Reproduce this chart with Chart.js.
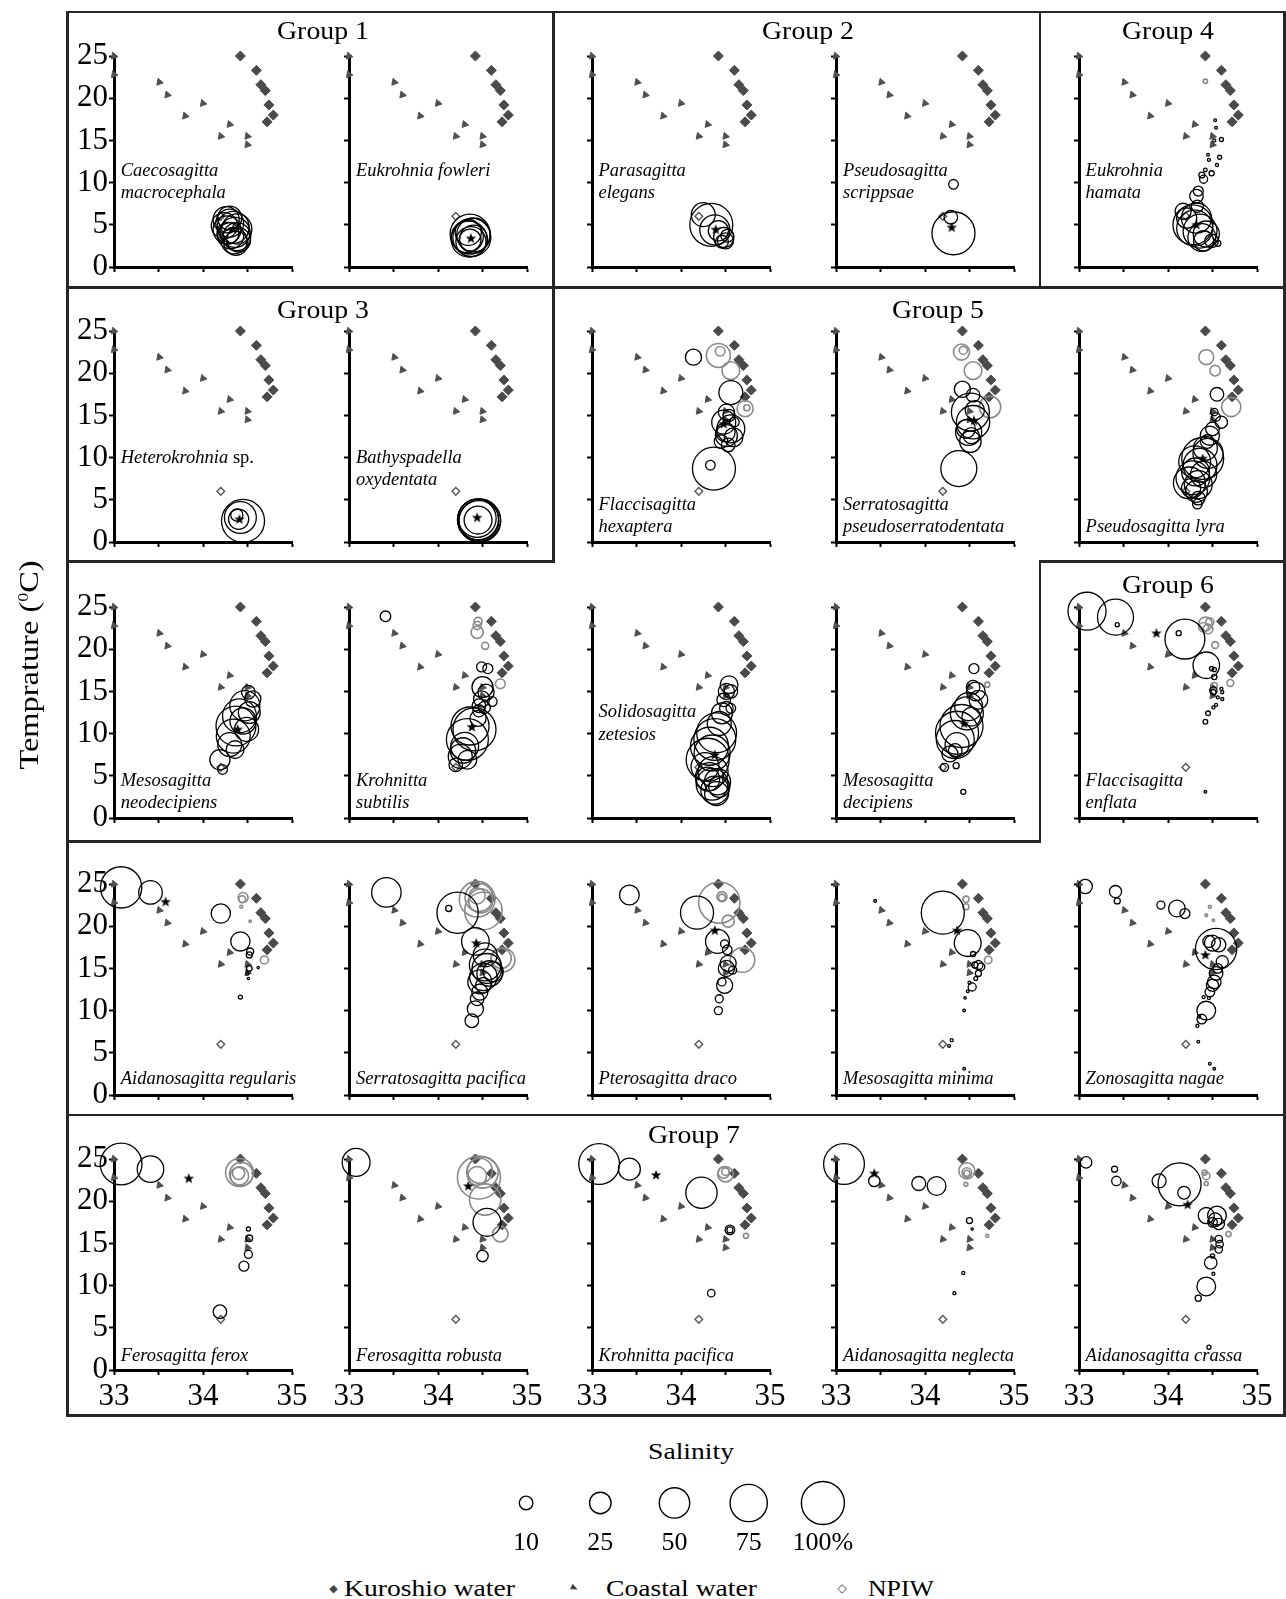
<!DOCTYPE html>
<html><head><meta charset="utf-8">
<script src="https://cdn.jsdelivr.net/npm/chart.js@4.4.1/dist/chart.umd.min.js"></script>
<style>
html,body{margin:0;padding:0;background:#fff;}
body{width:1286px;height:1599px;position:relative;overflow:hidden;font-family:'Liberation Serif','Times New Roman',serif;color:#000;}
canvas{position:absolute;}
</style></head><body>
<script>
// ---------------- DATA ----------------
const salinityTicks = [33, 33.5, 34, 34.5, 35];
const temperatureTicks = [0, 5, 10, 15, 20, 25];

// water-mass reference points [salinity, temperature]
const kuroshioWater = [[34.42,25.0],[34.60,23.3],[34.65,21.6],[34.70,20.9],[34.74,19.2],[34.79,18.0],[34.72,17.2]];
const coastalWater = [[33.0,25.0],[33.0,22.8],[33.51,21.9],[33.60,20.4],[34.0,19.4],[33.80,17.9],[34.30,16.9],[34.20,15.5],[34.50,15.5],[34.50,14.5]];
const npiw = [[34.2,6.0]];

// species occurrences [salinity, temperature, % of abundance]  (black = main, gray = second set)
const macrocephala = [[34.26,5.6,37],[34.30,5.2,42],[34.34,4.7,55],[34.27,4.4,42],[34.36,4.1,49],[34.38,3.6,42],[34.35,3.1,37],[34.37,2.8,31],[34.31,3.7,37],[34.24,4.9,37],[34.38,4.5,49],[34.30,5.8,31],[34.40,3.2,31],[34.28,4.0,26]];
const fowleri = [[34.36,3.9,86],[34.38,3.5,78],[34.35,3.3,70],[34.40,3.8,62],[34.33,3.6,55],[34.37,3.0,49],[34.40,3.3,42],[34.34,4.1,37],[34.36,3.2,26]];
const elegans = [[34.34,5.0,100],[34.25,6.2,31],[34.38,4.4,49],[34.42,4.3,22],[34.48,3.5,22],[34.50,3.1,14],[34.52,3.7,9],[34.46,3.0,9]];
const scrippsae = [[34.32,4.0,100],[34.29,5.9,10],[34.32,9.8,5]];
const hamata = [[34.53,17.4,0.4],[34.60,15.1,0.9],[34.54,16.5,0.4],[34.52,15.0,0.5],[34.45,13.3,0.4],[34.58,13.0,0.9],[34.46,12.7,0.5],[34.55,12.1,0.5],[34.42,11.5,0.7],[34.49,11.1,1.4],[34.38,10.9,1.9],[34.40,10.4,3.5],[34.34,9.0,5.4],[34.32,8.4,10],[34.33,7.2,8],[34.17,6.6,14],[34.21,5.8,22],[34.28,5.0,86],[34.32,5.8,49],[34.36,4.25,62],[34.30,4.6,70],[34.38,3.5,42],[34.43,3.9,37],[34.40,3.1,22],[34.49,3.1,10],[34.56,2.8,2]];
const hamataGray = [[34.42,22.0,1]];
const heterokrohnia = [[34.45,2.5,100],[34.42,2.9,55],[34.40,2.7,22],[34.38,3.2,8]];
const oxydentata = [[34.46,2.6,100],[34.47,2.5,95],[34.45,2.7,90],[34.46,2.55,86],[34.44,2.8,78],[34.45,2.6,42]];
const hexaptera = [[34.14,21.9,14],[34.56,17.7,31],[34.51,15.4,14],[34.48,14.2,31],[34.56,13.4,42],[34.51,12.6,26],[34.45,11.9,10],[34.59,12.4,19],[34.53,11.5,10],[34.60,14.2,5],[34.50,13.0,20],[34.54,15.0,8],[34.37,8.7,100],[34.33,9.1,5]];
const hexapteraGray = [[34.42,22.1,31],[34.44,22.6,5],[34.56,20.3,17],[34.72,15.8,14],[34.74,15.9,2]];
const pseudoserratodentata = [[34.42,18.1,14],[34.54,17.4,10],[34.51,15.4,78],[34.54,14.2,60],[34.49,13.0,37],[34.51,11.9,25],[34.46,13.4,19],[34.56,15.6,20],[34.52,12.6,14],[34.38,8.7,70]];
const pseudoserratodentataGray = [[34.41,22.5,14],[34.43,22.7,3.5],[34.54,20.3,17],[34.73,16.0,25]];
const lyra = [[34.55,17.5,10],[34.52,15.4,3],[34.54,14.8,4],[34.60,14.2,8],[34.50,13.4,10],[34.47,12.6,20],[34.44,11.9,10],[34.42,11.1,31],[34.45,10.5,49],[34.39,9.9,95],[34.30,9.5,55],[34.36,9.1,62],[34.31,8.3,42],[34.40,8.0,37],[34.28,7.6,62],[34.24,7.0,55],[34.34,6.8,42],[34.26,6.4,20],[34.32,6.0,26],[34.34,5.2,10],[34.33,4.5,5]];
const lyraGray = [[34.43,21.9,12],[34.53,20.3,6],[34.71,16.0,20]];
const neodecipiens = [[34.51,14.9,10],[34.56,14.1,14],[34.47,13.3,49],[34.52,12.5,26],[34.41,12.1,62],[34.45,11.5,37],[34.37,10.9,86],[34.49,10.5,31],[34.34,9.7,62],[34.30,8.7,31],[34.36,8.1,17],[34.19,6.9,22],[34.22,5.75,5]];
const subtilis = [[33.41,23.9,6],[34.49,17.9,5.4],[34.56,17.7,5.4],[34.50,15.5,24],[34.54,14.9,14],[34.49,14.1,14],[34.61,13.8,5],[34.46,13.3,10],[34.52,13.1,8],[34.46,12.7,8],[34.45,11.8,14],[34.41,10.5,100],[34.36,10.9,78],[34.33,9.3,95],[34.30,8.5,42],[34.28,8.0,35],[34.25,7.3,31],[34.33,6.9,19],[34.20,6.3,10]];
const subtilisGray = [[34.45,23.3,3.5],[34.44,22.8,3.5],[34.44,22.0,8],[34.53,20.4,2.7],[34.70,15.9,5]];
const zetesios = [[34.54,15.8,17],[34.51,15.0,14],[34.56,15.0,10],[34.48,14.0,10],[34.51,13.0,10],[34.56,13.0,5],[34.46,12.4,24],[34.43,11.2,31],[34.40,10.1,86],[34.38,9.3,95],[34.32,8.5,78],[34.35,7.7,70],[34.30,6.9,100],[34.27,6.1,42],[34.36,5.5,49],[34.32,4.9,42],[34.30,4.6,31],[34.41,4.3,37],[34.35,4.0,55],[34.43,3.7,24],[34.38,3.3,42],[34.40,2.9,31]];
const decipiens = [[34.55,17.7,5.4],[34.54,15.5,10],[34.57,15.0,19],[34.60,14.0,19],[34.49,13.2,42],[34.47,12.4,59],[34.52,12.0,19],[34.41,10.9,100],[34.36,10.1,100],[34.34,9.3,78],[34.36,8.7,31],[34.34,8.0,10],[34.28,7.6,14],[34.35,6.2,2],[34.22,6.0,3.5],[34.43,3.1,1.4]];
const decipiensGray = [[34.70,15.8,1.4]];
const enflata = [[33.09,24.5,78],[33.41,23.8,70],[33.43,22.9,0.9],[34.19,21.2,86],[34.12,21.9,1.4],[34.43,18.1,38],[34.49,17.7,1],[34.52,17.6,1],[34.52,16.7,1.5],[34.51,15.1,3],[34.51,14.9,1.5],[34.60,15.3,0.5],[34.61,14.9,0.5],[34.56,14.3,0.5],[34.61,14.1,0.5],[34.51,13.1,0.5],[34.54,13.4,0.5],[34.45,12.4,1.2],[34.42,11.4,1.2],[34.42,3.1,0.4]];
const enflataGray = [[34.42,23.0,10],[34.47,23.2,3.5],[34.45,22.4,5],[34.40,22.6,5],[34.53,20.5,2.5],[34.52,15.7,2],[34.70,16.0,2.5]];
const regularis = [[33.08,24.6,92],[33.41,24.0,30],[34.20,21.5,20],[34.42,18.2,20],[34.53,17.0,2.7],[34.52,16.6,2],[34.52,15.0,1.7],[34.50,14.4,0.5],[34.62,15.1,0.3],[34.51,13.8,0.3],[34.42,11.6,0.9]];
const regularisGray = [[34.45,23.4,5.4],[34.44,23.2,2.5],[34.43,22.3,0.5],[34.53,20.6,0.3],[34.69,16.0,3.5]];
const serratoPacifica = [[33.42,24.0,47],[34.22,21.6,92],[34.12,22.1,2],[34.42,18.2,41],[34.53,16.6,31],[34.53,15.4,54],[34.55,15.0,48],[34.58,14.4,35],[34.51,14.0,41],[34.47,13.4,31],[34.62,14.6,22],[34.51,13.0,13],[34.47,12.2,14],[34.44,11.4,10],[34.42,10.2,14],[34.38,8.8,10]];
const serratoPacificaGray = [[34.44,23.2,69],[34.46,23.4,42],[34.48,23.0,31],[34.44,23.6,14],[34.51,21.8,76],[34.73,16.0,31],[34.71,16.2,22]];
const draco = [[33.42,23.7,21],[34.18,21.6,59],[34.41,18.2,31],[34.49,17.9,3.5],[34.52,17.2,5],[34.53,15.6,14],[34.51,15.0,14],[34.58,14.8,3.5],[34.49,13.0,14],[34.46,13.4,3.5],[34.43,11.4,3.5],[34.42,10.0,3.5]];
const dracoGray = [[34.43,22.8,92],[34.46,23.5,5.4],[34.46,23.4,2.5],[34.53,20.6,7.8],[34.69,16.0,33]];
const minima = [[33.44,23.0,0.4],[34.20,21.6,100],[34.48,18.0,39],[34.54,16.7,1.4],[34.60,15.4,4.4],[34.63,15.2,3],[34.56,15.4,2],[34.60,14.4,2],[34.57,13.8,0.8],[34.53,12.8,3.5],[34.50,13.3,0.5],[34.48,12.3,0.4],[34.45,11.5,0.3],[34.44,10.0,0.4],[34.30,6.5,0.5],[34.27,5.8,0.4],[34.44,3.1,0.4]];
const minimaGray = [[34.46,23.2,2],[34.46,22.3,2],[34.71,16.0,3]];
const nagae = [[33.07,24.7,11],[33.41,24.1,8],[33.43,23.0,2],[33.92,22.5,3.5],[34.10,22.1,15],[34.19,21.5,5.4],[34.54,17.3,92],[34.50,18.0,14],[34.57,17.8,11],[34.46,18.2,8],[34.61,15.8,8],[34.56,15.0,5],[34.54,14.4,10],[34.52,13.4,10],[34.50,13.0,8],[34.47,12.2,5],[34.40,11.6,0.5],[34.46,11.5,0.5],[34.43,10.0,19],[34.38,9.0,5],[34.35,9.3,0.5],[34.33,8.2,0.5],[34.34,6.3,0.4],[34.47,3.7,0.4],[34.52,3.1,0.4]];
const nagaeGray = [[34.47,22.3,0.5],[34.43,21.3,0.4],[34.51,20.7,0.3]];
const ferox = [[33.08,24.4,94],[33.41,23.8,38],[34.51,16.7,0.9],[34.52,15.6,2.4],[34.51,13.7,3.5],[34.46,12.3,5.4],[34.19,6.9,10]];
const feroxGray = [[34.41,23.4,42],[34.43,23.2,30],[34.41,23.0,18],[34.40,23.3,8]];
const robusta = [[33.08,24.6,42],[34.55,17.5,42],[34.50,13.5,7]];
const robustaGray = [[34.46,22.8,100],[34.50,23.4,53],[34.47,23.6,34],[34.44,23.0,19],[34.53,20.2,53],[34.70,16.1,13]];
const krohnPacifica = [[33.08,24.4,90],[33.42,23.8,26],[34.23,21.0,53],[34.55,16.6,5],[34.55,16.6,2],[34.34,9.1,3]];
const krohnPacificaGray = [[34.50,23.2,13],[34.48,23.4,7],[34.50,23.5,3],[34.73,15.9,1.4]];
const neglecta = [[33.09,24.4,90],[33.43,22.4,7],[33.93,22.1,10.6],[34.13,21.8,19],[34.50,17.7,2],[34.53,16.7,0.3],[34.43,11.5,0.5],[34.33,9.1,0.5]];
const neglectaGray = [[34.47,23.6,14],[34.47,23.4,5],[34.47,23.3,2],[34.46,22.0,0.8],[34.70,15.9,0.5]];
const crassa = [[33.08,24.6,7],[33.40,23.8,2],[33.42,22.4,4.8],[33.90,22.4,10.6],[34.13,22.0,100],[34.18,21.0,8.6],[34.43,18.3,14],[34.55,18.3,19],[34.53,17.8,10],[34.57,17.3,7],[34.50,17.5,5],[34.57,15.5,3],[34.58,14.9,3],[34.57,14.3,3],[34.50,13.5,1],[34.48,12.7,8.6],[34.51,11.4,0.5],[34.43,9.9,19],[34.34,8.5,2],[34.46,2.7,0.9]];
const crassaGray = [[34.43,23.0,3],[34.41,23.4,1.4],[34.43,22.1,0.9],[34.68,16.1,1.5]];

// weighted centre (star) of each species [salinity, temperature]
const weightedMeans = [[34.34,4.5],[34.37,3.4],[34.39,4.45],[34.30,4.7],[34.32,5.0],[34.41,2.7],[34.44,2.9],[34.48,14.0],[34.55,14.4],[34.39,9.9],[34.39,10.5],[34.38,10.8],[34.38,7.5],[34.44,11.2],[33.87,21.9],[33.58,22.9],[34.43,18.0],[34.38,19.5],[34.36,19.5],[34.42,16.6],[33.84,22.7],[34.34,21.8],[33.72,23.1],[33.43,23.3],[34.22,19.6]];

const speciesNames = [
 ['Caecosagitta','macrocephala'],['Eukrohnia fowleri'],['Parasagitta','elegans'],['Pseudosagitta','scrippsae'],['Eukrohnia','hamata'],
 ['Heterokrohnia sp.'],['Bathyspadella','oxydentata'],['Flaccisagitta','hexaptera'],['Serratosagitta','pseudoserratodentata'],['Pseudosagitta lyra'],
 ['Mesosagitta','neodecipiens'],['Krohnitta','subtilis'],['Solidosagitta','zetesios'],['Mesosagitta','decipiens'],['Flaccisagitta','enflata'],
 ['Aidanosagitta regularis'],['Serratosagitta pacifica'],['Pterosagitta draco'],['Mesosagitta minima'],['Zonosagitta nagae'],
 ['Ferosagitta ferox'],['Ferosagitta robusta'],['Krohnitta pacifica'],['Aidanosagitta neglecta'],['Aidanosagitta crassa']
];
const groupTitles = ['Group 1','Group 2','Group 4','Group 3','Group 5','Group 6','Group 7'];
const legendSizes = [10, 25, 50, 75, 100];
const legendSizeLabels = ['10','25','50','75','100%'];
const waterMassLabels = ['Kuroshio water','Coastal water','NPIW'];

const panelBlack = [macrocephala,fowleri,elegans,scrippsae,hamata,heterokrohnia,oxydentata,hexaptera,pseudoserratodentata,lyra,neodecipiens,subtilis,zetesios,decipiens,enflata,regularis,serratoPacifica,draco,minima,nagae,ferox,robusta,krohnPacifica,neglecta,crassa];
const panelGray = [[],[],[],[],hamataGray,[],[],hexapteraGray,pseudoserratodentataGray,lyraGray,[],subtilisGray,[],decipiensGray,enflataGray,regularisGray,serratoPacificaGray,dracoGray,minimaGray,nagaeGray,feroxGray,robustaGray,krohnPacificaGray,neglectaGray,crassaGray];

// ---------------- LAYOUT ----------------
const colX = [113.7, 349, 591.5, 836, 1078.6];
const rowBase = [266.7, 542.4, 818.3, 1094.5, 1370];
const PW = 178, PH = 211, ML = 70, MT = 34, MR = 34, MB = 50;
const SIZE_K = 2.15; // px radius per sqrt(%)
const TICK_FONT = 31;
const nameOffsets = [[90,68],[90],[90,68],[90,68],[90,68],[79],[79,57],[32,10],[32,10],[10],[32,10],[32,10],[101,78],[32,10],[32,10],[10],[10],[10],[10],[10],[9],[9],[9],[9],[9]];
const groupTitlePos = [[323,40],[808,40],[1168,40],[323,319],[938,319],[1168,594],[694,1144]];
const boxLines = [[67.7,12,1284.5,12],[67.7,1415.5,1284.5,1415.5],[67.7,12,67.7,1415.5],[1284.5,12,1284.5,1415.5],[67.7,287.6,1284.5,287.6],[553.5,12,553.5,561.5],[1040,12,1040,287.6],[67.7,561.5,553.5,561.5],[1040,561.5,1284.5,561.5],[1040,561.5,1040,841.3],[67.7,841.3,1040,841.3],[67.7,1115,1284.5,1115]];

Chart.defaults.font.family = "'Liberation Serif','Times New Roman',serif";
Chart.defaults.color = '#000';

function el(tag, css, html){ const e=document.createElement(tag); e.style.cssText=css; if(html!==undefined) e.innerHTML=html; document.body.appendChild(e); return e; }

// box lines
boxLines.forEach(([x1,y1,x2,y2])=>{
  if (y1===y2) el('div', `position:absolute;background:#262626;left:${x1-1.25}px;top:${y1-1.25}px;width:${x2-x1+2.5}px;height:2.5px;`);
  else el('div', `position:absolute;background:#262626;left:${x1-1.25}px;top:${y1-1.25}px;width:2.5px;height:${y2-y1+2.5}px;`);
});

// star image for weighted mean
function makeStar(){
  const c=document.createElement('canvas'); c.width=12; c.height=12;
  const x=c.getContext('2d'); x.fillStyle='#000'; x.beginPath();
  for(let i=0;i<10;i++){ const a=-Math.PI/2+i*Math.PI/5; const rr=(i%2)?2.3:5.6; x.lineTo(6+rr*Math.cos(a),6.3+rr*Math.sin(a)); }
  x.closePath(); x.fill(); return c;
}
const starImg = makeStar();

const toBubble = a => a.map(p=>({x:p[0], y:p[1], r:SIZE_K*Math.sqrt(p[2])}));
const toPoint = a => a.map(p=>({x:p[0], y:p[1]}));

function makePanel(i){
  const row=Math.floor(i/5), col=i%5;
  const cv=document.createElement('canvas');
  cv.width=ML+PW+MR; cv.height=MT+PH+MB;
  cv.style.left=(colX[col]-ML)+'px'; cv.style.top=(rowBase[row]-PH-MT)+'px';
  document.body.appendChild(cv);
  const axisCommon = {
    grid:{drawOnChartArea:false, drawTicks:true, tickLength:5, tickWidth:2, tickColor:'#000'},
    border:{display:true, width:3, color:'#000'}
  };
  new Chart(cv, {
    type:'scatter',
    data:{datasets:[
      {type:'scatter', data:toPoint([weightedMeans[i]]), pointStyle:starImg, pointRadius:5, order:0, clip:false},
      {type:'bubble', data:toBubble(panelBlack[i]), borderColor:'#000', backgroundColor:'rgba(0,0,0,0)', borderWidth:1.3, order:1, clip:false},
      {type:'bubble', data:toBubble(panelGray[i]), borderColor:'#8a8a8a', backgroundColor:'rgba(0,0,0,0)', borderWidth:1.6, order:2, clip:false},
      {type:'scatter', data:toPoint(npiw), pointStyle:'rectRot', pointRadius:3.8, pointBorderColor:'#555', pointBackgroundColor:'rgba(255,255,255,0)', pointBorderWidth:1.4, order:3, clip:false},
      {type:'scatter', data:toPoint(coastalWater), pointStyle:'triangle', pointRadius:4, pointRotation:100, pointBorderColor:'#505050', pointBackgroundColor:'#505050', pointBorderWidth:1, order:4, clip:false},
      {type:'scatter', data:toPoint(kuroshioWater), pointStyle:'rectRot', pointRadius:5, pointBorderColor:'#4a4a4a', pointBackgroundColor:'#4a4a4a', pointBorderWidth:1, order:5, clip:false}
    ]},
    options:{
      responsive:false, animation:false, events:[],
      layout:{autoPadding:false, padding:{top:MT, right:MR, left:0, bottom:0}},
      plugins:{legend:{display:false}, tooltip:{enabled:false}},
      scales:{
        x:Object.assign({type:'linear', min:33, max:35, position:'bottom',
          afterFit:s=>{s.height=MB;},
          afterBuildTicks:s=>{s.ticks=salinityTicks.map(v=>({value:v}));},
          ticks:{display:row===4, autoSkip:false, maxRotation:0, padding:3, font:{size:TICK_FONT}, color:'#000',
                 callback:v=>Number.isInteger(v)?String(v):''}}, axisCommon),
        y:Object.assign({type:'linear', min:0, max:25, position:'left',
          afterFit:s=>{s.width=ML;},
          afterBuildTicks:s=>{s.ticks=temperatureTicks.map(v=>({value:v}));},
          ticks:{display:col===0, padding:1, font:{size:TICK_FONT}, color:'#000'}}, axisCommon)
      }
    }
  });
  // species name
  const fs=18.5;
  speciesNames[i].forEach((line,k)=>{
    const base=rowBase[row]-nameOffsets[i][k];
    const html=line.replace(/ sp\.$/,'</i> <span style="font-style:normal">sp.</span><i>');
    el('div', `position:absolute;white-space:nowrap;line-height:1;font-size:${fs}px;font-style:italic;left:${colX[col]+7}px;top:${base-0.8375*fs}px;`, '<i>'+html+'</i>');
  });
}
for(let i=0;i<25;i++) makePanel(i);

// group titles
groupTitles.forEach((g,k)=>{
  const [cx,base]=groupTitlePos[k]; const fs=26;
  el('div', `position:absolute;white-space:nowrap;line-height:1;font-size:${fs}px;left:${cx}px;top:${base-0.8375*fs}px;transform:translateX(-50%) scaleX(1.07);`, g);
});

// axis titles
el('div', `position:absolute;white-space:nowrap;line-height:1;font-size:27px;left:28.5px;top:665px;transform:translate(-50%,-50%) rotate(-90deg) scaleX(1.2);`, 'Temprature (<sup style="font-size:15px">0</sup>C)');
el('div', `position:absolute;white-space:nowrap;line-height:1;font-size:24px;left:690.5px;top:1451px;transform:translate(-50%,-50%) scaleX(1.15);`, 'Salinity');

// bubble-size legend (drawn by Chart.js)
(function(){
  const cv=document.createElement('canvas'); cv.width=371; cv.height=100;
  cv.style.left='489.2px'; cv.style.top='1470px'; document.body.appendChild(cv);
  new Chart(cv,{
    type:'bubble',
    data:{datasets:[{data:legendSizes.map((v,k)=>({x:k, y:0, r:SIZE_K*Math.sqrt(v)})), borderColor:'#000', backgroundColor:'rgba(0,0,0,0)', borderWidth:1.4, clip:false}]},
    options:{responsive:false, animation:false, events:[], layout:{autoPadding:false, padding:0},
      plugins:{legend:{display:false}, tooltip:{enabled:false}},
      scales:{
        x:{type:'linear', min:-0.5, max:4.5, afterFit:s=>{s.height=40;},
           afterBuildTicks:s=>{s.ticks=legendSizes.map((v,k)=>({value:k}));},
           grid:{display:false, drawTicks:false}, border:{display:false},
           ticks:{padding:0, font:{size:26, lineHeight:1}, color:'#000', callback:v=>legendSizeLabels[v]}},
        y:{display:false, min:-0.82, max:1}
      }}
  });
})();

// water-mass legend
(function(){
  const fs=23, y=1588;
  el('div', `position:absolute;line-height:1;font-size:11px;color:#444;left:333.5px;top:${y}px;transform:translate(-50%,-50%);font-family:'DejaVu Sans';`, '&#9670;');
  el('div', `position:absolute;white-space:nowrap;line-height:1;font-size:${fs}px;left:344px;top:${y}px;transform-origin:0 50%;transform:translateY(-50%) scaleX(1.2);`, waterMassLabels[0]);
  el('div', `position:absolute;width:0;height:0;border-top:3.5px solid transparent;border-bottom:3.5px solid transparent;border-left:7px solid #444;left:571px;top:${y-3.5}px;transform:rotate(25deg);`);
  el('div', `position:absolute;white-space:nowrap;line-height:1;font-size:${fs}px;left:606px;top:${y}px;transform-origin:0 50%;transform:translateY(-50%) scaleX(1.2);`, waterMassLabels[1]);
  el('div', `position:absolute;line-height:1;font-size:12px;color:#444;left:842px;top:${y}px;transform:translate(-50%,-50%);font-family:'DejaVu Sans';`, '&#9671;');
  el('div', `position:absolute;white-space:nowrap;line-height:1;font-size:${fs}px;left:868px;top:${y}px;transform-origin:0 50%;transform:translateY(-50%) scaleX(1.12);`, waterMassLabels[2]);
})();
</script>
</body></html>
